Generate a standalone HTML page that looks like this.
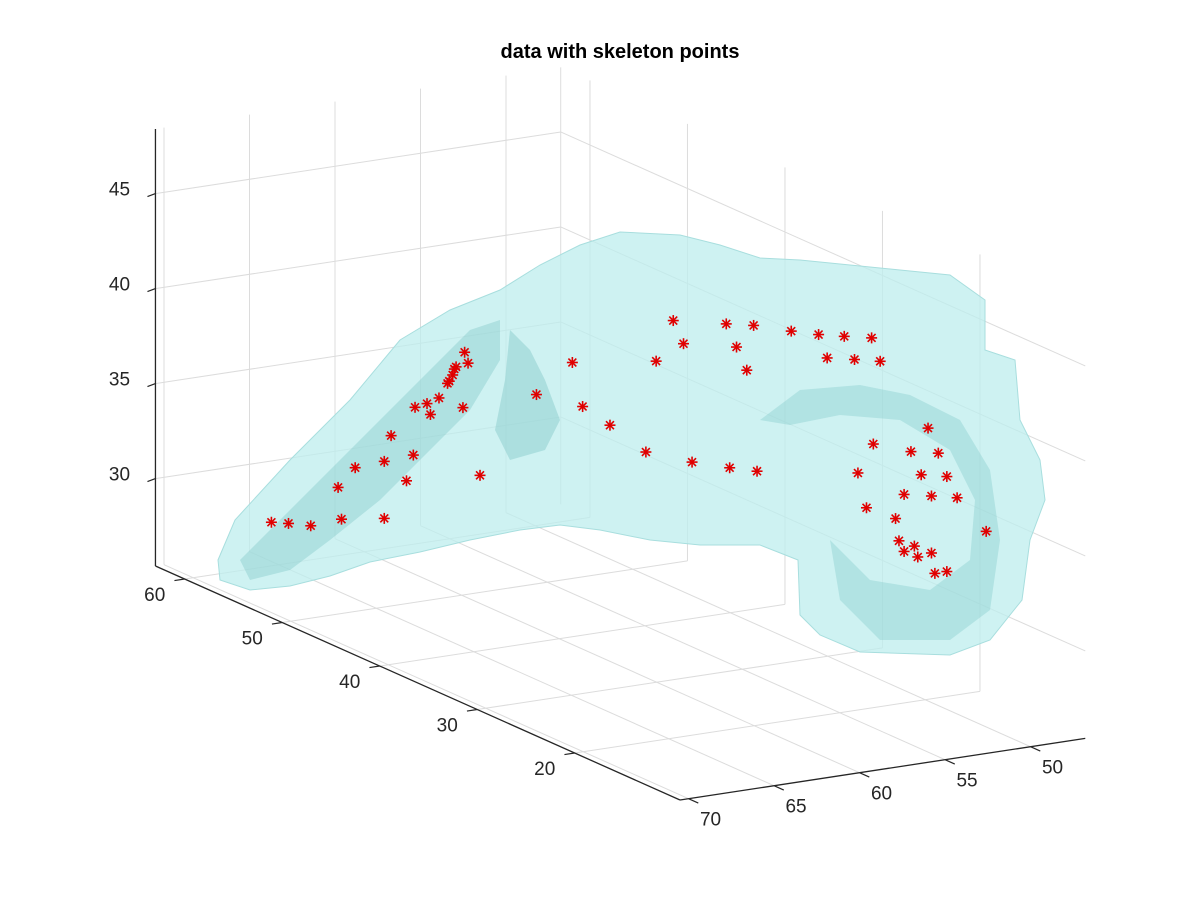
<!DOCTYPE html>
<html><head><meta charset="utf-8"><style>
html,body{margin:0;padding:0;background:#fff;}
svg{display:block;font-family:"Liberation Sans","DejaVu Sans",sans-serif;}
</style></head><body>
<svg id="chart" width="1200" height="900" viewBox="0 0 1200 900" xmlns="http://www.w3.org/2000/svg">
<rect width="1200" height="900" fill="#fff"/>
<text x="620" y="58" text-anchor="middle" font-size="20" font-weight="bold" fill="#000">data with skeleton points</text>
<g id="grid"></g>
<g id="surface">
<path fill="#bdeeee" fill-opacity="0.75" stroke="#a8dede" stroke-width="1" d="M218,560 L235,520 L290,460 L350,400 L400,340 L450,310 L500,290 L540,265 L580,245 L620,232 L680,235 L720,245 L760,258 L800,260 L850,265 L900,270 L950,275 L985,300 L985,350 L1015,360 L1020,420 L1040,460 L1045,500 L1030,540 L1022,600 L990,640 L950,655 L860,652 L820,635 L800,615 L798,560 L760,545 L700,545 L650,540 L600,530 L560,525 L520,530 L470,540 L420,552 L370,562 L330,576 L290,586 L250,590 L220,580 Z"/>
<path fill="#8fd0d0" fill-opacity="0.5" d="M240,560 L280,520 L330,470 L380,420 L430,370 L470,330 L500,320 L500,360 L470,410 L430,450 L380,500 L330,540 L290,570 L250,580 Z"/>
<path fill="#8fd0d0" fill-opacity="0.55" d="M510,330 L530,350 L545,380 L560,420 L545,450 L510,460 L495,430 L505,380 Z"/>
<path fill="#8fd0d0" fill-opacity="0.45" d="M760,420 L800,390 L860,385 L910,395 L960,420 L990,470 L1000,540 L990,610 L950,640 L880,640 L840,600 L830,540 L870,580 L930,590 L970,560 L975,500 L950,450 L900,420 L840,415 L790,425 Z"/>
</g>
<g id="axes"></g>
<g id="points"></g>
</svg>
<script>
const xTicks=[50,55,60,65,70];
const yTicks=[20,30,40,50,60];
const zTicks=[30,35,40,45];
const ptX=[79.0,78.0,76.7,74.9,72.4,75.1,74.1,72.4,70.7,71.1,72.0,70.6,69.9,69.7,69.2,68.7,68.6,68.4,68.3,68.2,67.7,67.5,67.8,66.8,63.5,61.4,60.8,59.2,57.1,54.4,52.2,50.6,56.5,55.5,54.9,52.4,50.8,51.8,51.2,48.6,47.0,46.5,45.5,44.9,43.9,43.4,43.8,44.7,44.2,42.5,42.3,42.0,42.0,41.6,41.4,41.2,41.0,40.6,40.4,40.4,40.2,40.0,39.5,39.5,38.9,37.2];
const ptZ=[35.0,34.8,34.5,34.6,34.3,36.3,37.2,37.3,37.4,36.1,38.6,39.9,40.0,39.4,40.2,40.9,41.0,41.3,41.6,41.7,42.4,41.8,39.5,35.8,39.6,41.0,38.6,37.4,35.7,34.8,34.2,33.8,40.4,42.4,41.1,41.8,41.5,40.5,39.2,40.9,40.5,39.2,40.2,38.9,39.9,38.6,34.3,32.9,31.0,30.2,29.0,28.4,31.4,33.6,28.6,28.0,32.3,34.7,28.1,31.1,27.0,33.3,27.0,32.0,30.8,28.8];
const ptY=ptX.map(()=>36.2);
const XL=[46.8,70.5], YL=[9.2,63], ZL=[25.4,48.4];
function P(x,y,z){
  return [680+17.1*(70.5-x)-9.75*(y-9.2), 800-2.6*(70.5-x)-4.35*(y-9.2)-19*(z-25.4)];
}
const NS="http://www.w3.org/2000/svg";
function line(g,a,b,stroke,w,name){
  const l=document.createElementNS(NS,'line');
  l.setAttribute('x1',a[0]);l.setAttribute('y1',a[1]);l.setAttribute('x2',b[0]);l.setAttribute('y2',b[1]);
  l.setAttribute('stroke',stroke);l.setAttribute('stroke-width',w);
  
  
  g.appendChild(l);return l;
}
function text(g,p,s,name){
  const t=document.createElementNS(NS,'text');
  t.setAttribute('x',p[0]);t.setAttribute('y',p[1]);t.setAttribute('font-size','19');t.setAttribute('fill','#262626');
  t.setAttribute('text-anchor','middle');t.setAttribute('dominant-baseline','middle');
  t.textContent=s;
  
  
  g.appendChild(t);
}
const grid=document.getElementById('grid'), gc='#dcdcdc';
// back wall y=YL[1]
xTicks.forEach(x=>{line(grid,P(x,YL[1],ZL[0]),P(x,YL[1],ZL[1]),gc,1,'grid-line-x');line(grid,P(x,YL[0],ZL[0]),P(x,YL[1],ZL[0]),gc,1,'grid-line-x-floor');});
yTicks.forEach(y=>{line(grid,P(XL[0],y,ZL[0]),P(XL[0],y,ZL[1]),gc,1,'grid-line-y');line(grid,P(XL[1],y,ZL[0]),P(XL[0],y,ZL[0]),gc,1,'grid-line-y-floor');});
zTicks.forEach(z=>{line(grid,P(XL[1],YL[1],z),P(XL[0],YL[1],z),gc,1,'grid-line-z');line(grid,P(XL[0],YL[1],z),P(XL[0],YL[0],z),gc,1,'grid-line-z-right');});
line(grid,P(XL[0],YL[1],ZL[0]),P(XL[0],YL[1],ZL[1]),gc,1,'back-edge');
const ax=document.getElementById('axes'), ac='#262626';
line(ax,P(XL[1],YL[1],ZL[0]),P(XL[1],YL[1],ZL[1]),ac,1.3,'z-axis');
line(ax,P(XL[1],YL[1],ZL[0]),P(XL[1],YL[0],ZL[0]),ac,1.3,'y-axis');
line(ax,P(XL[1],YL[0],ZL[0]),P(XL[0],YL[0],ZL[0]),ac,1.3,'x-axis');
zTicks.forEach(z=>{const p=P(XL[1],YL[1],z);line(ax,p,[p[0]-8,p[1]+3],ac,1.2,'z-tick');text(ax,[p[0]-36,p[1]-3],String(z),'z-tick-label');});
yTicks.forEach(y=>{const p=P(XL[1],y,ZL[0]);const q=P(XL[1]+0.6,y,ZL[0]);line(ax,p,q,ac,1.2,'y-tick');text(ax,[p[0]-30,p[1]+17],String(y),'y-tick-label');});
xTicks.forEach(x=>{const p=P(x,YL[0],ZL[0]);const q=P(x,YL[0]-1,ZL[0]);line(ax,p,q,ac,1.2,'x-tick');text(ax,[p[0]+22,p[1]+22],String(x),'x-tick-label');});
const pg=document.getElementById('points');
for(let i=0;i<ptX.length;i++){
  const [cx,cy]=P(ptX[i],ptY[i],ptZ[i]);
  const g=document.createElementNS(NS,'g');
  
  
  const r=5.5,d=r*0.72;
  [[0,-r,0,r],[-r,0,r,0],[-d,-d,d,d],[-d,d,d,-d]].forEach(s=>{
    const l=document.createElementNS(NS,'line');
    l.setAttribute('x1',cx+s[0]);l.setAttribute('y1',cy+s[1]);l.setAttribute('x2',cx+s[2]);l.setAttribute('y2',cy+s[3]);
    l.setAttribute('stroke','#e00000');l.setAttribute('stroke-width','1.6');
    g.appendChild(l);
  });
  pg.appendChild(g);
}
</script>
</body></html>
